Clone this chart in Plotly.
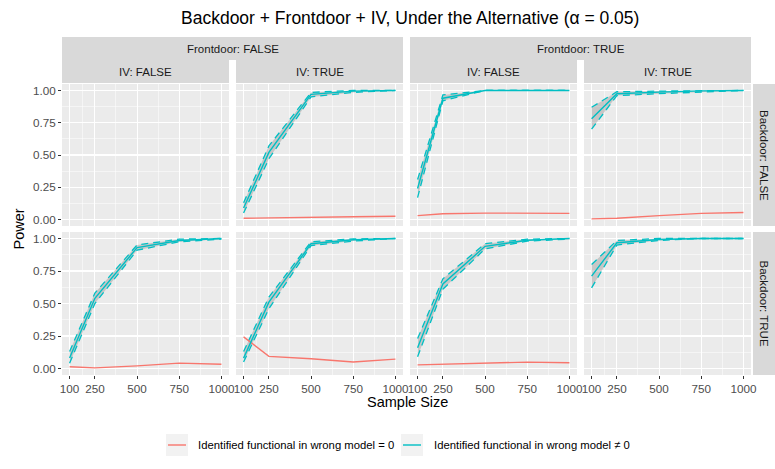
import plotly.graph_objects as go

W, H = 775, 469

# ---------------- data ----------------
sample_size = [100, 250, 500, 750, 1000]
x_tick_vals = [100, 250, 500, 750, 1000]
x_tick_text = ["100", "250", "500", "750", "1000"]
y_tick_vals = [0, 0.25, 0.5, 0.75, 1.0]
y_tick_text = ["0.00", "0.25", "0.50", "0.75", "1.00"]

frontdoor_labels = ["Frontdoor: FALSE", "Frontdoor: TRUE"]
iv_labels = ["IV: FALSE", "IV: TRUE", "IV: FALSE", "IV: TRUE"]
backdoor_labels = ["Backdoor: FALSE", "Backdoor: TRUE"]
series_names = ["Identified functional in wrong model = 0",
                "Identified functional in wrong model \u2260 0"]
title_text = "Backdoor + Frontdoor + IV, Under the Alternative (\u03b1 = 0.05)"

# Backdoor FALSE, Frontdoor FALSE, IV TRUE
zero_bF_fF_iT = [0.010, 0.014, 0.018, 0.022, 0.026]
nz_bF_fF_iT = [0.09, 0.52, 0.97, 0.995, 1.0]
nz_lo_bF_fF_iT = [0.05, 0.47, 0.95, 0.985, 1.0]
nz_hi_bF_fF_iT = [0.13, 0.57, 0.985, 1.0, 1.0]

# Backdoor FALSE, Frontdoor TRUE, IV FALSE
zero_bF_fT_iF = [0.030, 0.045, 0.050, 0.050, 0.048]
nz_bF_fT_iF = [0.24, 0.94, 1.0, 1.0, 1.0]
nz_lo_bF_fT_iF = [0.17, 0.92, 1.0, 1.0, 1.0]
nz_hi_bF_fT_iF = [0.31, 0.965, 1.0, 1.0, 1.0]

# Backdoor FALSE, Frontdoor TRUE, IV TRUE
zero_bF_fT_iT = [0.005, 0.010, 0.030, 0.048, 0.054]
nz_bF_fT_iT = [0.78, 0.975, 0.987, 0.997, 1.0]
nz_lo_bF_fT_iT = [0.70, 0.96, 0.975, 0.99, 1.0]
nz_hi_bF_fT_iT = [0.87, 0.99, 0.995, 1.0, 1.0]

# Backdoor TRUE, Frontdoor FALSE, IV FALSE
zero_bT_fF_iF = [0.013, 0.005, 0.020, 0.041, 0.033]
nz_bT_fF_iF = [0.08, 0.54, 0.93, 0.985, 1.0]
nz_lo_bT_fF_iF = [0.04, 0.50, 0.91, 0.975, 0.995]
nz_hi_bT_fF_iF = [0.13, 0.58, 0.95, 0.995, 1.0]

# Backdoor TRUE, Frontdoor FALSE, IV TRUE
zero_bT_fF_iT = [0.243, 0.093, 0.075, 0.050, 0.072]
nz_bT_fF_iT = [0.08, 0.51, 0.96, 0.99, 1.0]
nz_lo_bT_fF_iT = [0.05, 0.46, 0.945, 0.98, 1.0]
nz_hi_bT_fF_iT = [0.13, 0.55, 0.975, 0.997, 1.0]

# Backdoor TRUE, Frontdoor TRUE, IV FALSE
zero_bT_fT_iF = [0.028, 0.034, 0.040, 0.049, 0.044]
nz_bT_fT_iF = [0.16, 0.65, 0.94, 0.987, 1.0]
nz_lo_bT_fT_iF = [0.09, 0.61, 0.92, 0.98, 0.995]
nz_hi_bT_fT_iF = [0.23, 0.69, 0.96, 0.995, 1.0]

# Backdoor TRUE, Frontdoor TRUE, IV TRUE
nz_bT_fT_iT = [0.71, 0.967, 0.992, 1.0, 1.0]
nz_lo_bT_fT_iT = [0.62, 0.95, 0.985, 1.0, 1.0]
nz_hi_bT_fT_iT = [0.80, 0.985, 1.0, 1.0, 1.0]

# (row, col, zero-series, nonzero-series, lower, upper)
panels = [
    (0, 0, None, None, None, None),
    (0, 1, zero_bF_fF_iT, nz_bF_fF_iT, nz_lo_bF_fF_iT, nz_hi_bF_fF_iT),
    (0, 2, zero_bF_fT_iF, nz_bF_fT_iF, nz_lo_bF_fT_iF, nz_hi_bF_fT_iF),
    (0, 3, zero_bF_fT_iT, nz_bF_fT_iT, nz_lo_bF_fT_iT, nz_hi_bF_fT_iT),
    (1, 0, zero_bT_fF_iF, nz_bT_fF_iF, nz_lo_bT_fF_iF, nz_hi_bT_fF_iF),
    (1, 1, zero_bT_fF_iT, nz_bT_fF_iT, nz_lo_bT_fF_iT, nz_hi_bT_fF_iT),
    (1, 2, zero_bT_fT_iF, nz_bT_fT_iF, nz_lo_bT_fT_iF, nz_hi_bT_fT_iF),
    (1, 3, None, nz_bT_fT_iT, nz_lo_bT_fT_iT, nz_hi_bT_fT_iT),
]

# ---------------- styling ----------------
RED = "#F8766D"
TEAL = "#00BFC4"
PANEL_BG = "#EBEBEB"
STRIP_BG = "#D9D9D9"
FONT = "Liberation Sans, Arial, Helvetica, sans-serif"

col_px = [(62, 229), (236, 403), (410, 577), (584, 751)]
row_px = [(84, 226), (232, 375)]


def fx(px):
    return px / W


def fy(py):
    return 1 - py / H


fig = go.Figure()
layout = dict(
    width=W, height=H, autosize=False,
    margin=dict(l=0, r=0, t=0, b=0, pad=0, autoexpand=False),
    paper_bgcolor="white",
    plot_bgcolor=PANEL_BG,
    showlegend=False,
    font=dict(family=FONT, color="#4D4D4D", size=11),
)

shapes = []
annotations = []

for (r, c, zero, nz, lo, hi) in panels:
    idx = r * 4 + c + 1
    xa = "x" if idx == 1 else f"x{idx}"
    ya = "y" if idx == 1 else f"y{idx}"
    xk = "xaxis" if idx == 1 else f"xaxis{idx}"
    yk = "yaxis" if idx == 1 else f"yaxis{idx}"
    x0, x1 = col_px[c]
    y0, y1 = row_px[r]
    layout[xk] = dict(
        domain=[fx(x0), fx(x1)], anchor=ya, range=[55, 1045],
        automargin=False,
        tickvals=x_tick_vals, ticktext=x_tick_text,
        showticklabels=(r == 1), ticks="outside" if r == 1 else "",
        ticklen=3, tickwidth=1, tickcolor="#333333",
        tickfont=dict(size=11.7, color="#4D4D4D", family=FONT),
        showgrid=True, gridcolor="white", gridwidth=1.1,
        minor=dict(tickvals=[175, 375, 625, 875], showgrid=True,
                   gridcolor="white", gridwidth=0.5, ticks=""),
        zeroline=False, showline=False, fixedrange=True,
    )
    layout[yk] = dict(
        domain=[fy(y1), fy(y0)], anchor=xa, range=[-0.05, 1.05],
        automargin=False,
        tickvals=y_tick_vals, ticktext=y_tick_text,
        showticklabels=(c == 0), ticks="outside" if c == 0 else "",
        ticklen=3, tickwidth=1, tickcolor="#333333",
        tickfont=dict(size=11.7, color="#4D4D4D", family=FONT),
        showgrid=True, gridcolor="white", gridwidth=1.1,
        minor=dict(tickvals=[0.125, 0.375, 0.625, 0.875], showgrid=True,
                   gridcolor="white", gridwidth=0.5, ticks=""),
        zeroline=False, showline=False, fixedrange=True,
    )
    if nz is None and zero is None:
        fig.add_trace(go.Scatter(x=[], y=[], xaxis=xa, yaxis=ya,
                                 hoverinfo="skip"))
        continue
    if nz is not None:
        # ribbon
        fig.add_trace(go.Scatter(x=sample_size, y=hi, xaxis=xa, yaxis=ya,
                                 mode="lines", line=dict(width=0, color=TEAL),
                                 hoverinfo="skip"))
        fig.add_trace(go.Scatter(x=sample_size, y=lo, xaxis=xa, yaxis=ya,
                                 mode="lines", line=dict(width=0, color=TEAL),
                                 fill="tonexty",
                                 fillcolor="rgba(140,140,140,0.38)",
                                 hoverinfo="skip"))
        for bound in (lo, hi):
            fig.add_trace(go.Scatter(x=sample_size, y=bound, xaxis=xa, yaxis=ya,
                                     mode="lines",
                                     line=dict(width=1.3, color=TEAL, dash="7px,5px"),
                                     hoverinfo="skip"))
    if zero is not None:
        fig.add_trace(go.Scatter(x=sample_size, y=zero, xaxis=xa, yaxis=ya,
                                 mode="lines", name=series_names[0],
                                 line=dict(width=1.4, color=RED)))
    if nz is not None:
        fig.add_trace(go.Scatter(x=sample_size, y=nz, xaxis=xa, yaxis=ya,
                                 mode="lines", name=series_names[1],
                                 line=dict(width=1.4, color=TEAL)))

# ---------------- strips ----------------
strip_font = dict(family=FONT, size=11.5, color="#1A1A1A")
# Frontdoor strips
for i, (ca, cb) in enumerate([(0, 1), (2, 3)]):
    xa0 = col_px[ca][0]
    xb1 = col_px[cb][1]
    shapes.append(dict(type="rect", xref="paper", yref="paper",
                       x0=fx(xa0), x1=fx(xb1), y0=fy(60), y1=fy(37),
                       fillcolor=STRIP_BG, line=dict(width=0), layer="below"))
    annotations.append(dict(text=frontdoor_labels[i], xref="paper", yref="paper",
                            x=fx((xa0 + xb1) / 2), y=fy(48.5), showarrow=False,
                            xanchor="center", yanchor="middle", font=strip_font))
# IV strips
for c in range(4):
    x0, x1 = col_px[c]
    shapes.append(dict(type="rect", xref="paper", yref="paper",
                       x0=fx(x0), x1=fx(x1), y0=fy(83), y1=fy(60),
                       fillcolor=STRIP_BG, line=dict(width=0), layer="below"))
    annotations.append(dict(text=iv_labels[c], xref="paper", yref="paper",
                            x=fx((x0 + x1) / 2), y=fy(71.5), showarrow=False,
                            xanchor="center", yanchor="middle", font=strip_font))
# Backdoor strips (right)
for r in range(2):
    y0, y1 = row_px[r]
    shapes.append(dict(type="rect", xref="paper", yref="paper",
                       x0=fx(753), x1=fx(775), y0=fy(y1), y1=fy(y0),
                       fillcolor=STRIP_BG, line=dict(width=0), layer="below"))
    annotations.append(dict(text=backdoor_labels[r], xref="paper", yref="paper",
                            x=fx(764), y=fy((y0 + y1) / 2), showarrow=False,
                            textangle=90, xanchor="center", yanchor="middle",
                            font=strip_font))

# ---------------- titles ----------------
annotations.append(dict(text=title_text, xref="paper", yref="paper",
                        x=fx(410), y=fy(18), showarrow=False,
                        xanchor="center", yanchor="middle",
                        font=dict(family=FONT, size=17.5, color="black")))
annotations.append(dict(text="Sample Size", xref="paper", yref="paper",
                        x=fx(407), y=fy(402), showarrow=False,
                        xanchor="center", yanchor="middle",
                        font=dict(family=FONT, size=14.5, color="black")))
annotations.append(dict(text="Power", xref="paper", yref="paper",
                        x=fx(18), y=fy(229.5), showarrow=False, textangle=-90,
                        xanchor="center", yanchor="middle",
                        font=dict(family=FONT, size=14.5, color="black")))

# ---------------- legend (manual) ----------------
legend_keys = [(166, 196, RED), (401, 432, TEAL)]
for i, (kx, tx, colr) in enumerate(legend_keys):
    shapes.append(dict(type="rect", xref="paper", yref="paper",
                       x0=fx(kx), x1=fx(kx + 22), y0=fy(456), y1=fy(434),
                       fillcolor="#F2F2F2", line=dict(width=0)))
    shapes.append(dict(type="line", xref="paper", yref="paper",
                       x0=fx(kx + 2), x1=fx(kx + 20), y0=fy(445), y1=fy(445),
                       line=dict(color=colr, width=1.4)))
    annotations.append(dict(text=series_names[i], xref="paper", yref="paper",
                            x=fx(tx), y=fy(445), showarrow=False,
                            xanchor="left", yanchor="middle",
                            font=dict(family=FONT, size=11.3, color="black")))

layout["shapes"] = shapes
layout["annotations"] = annotations
fig.update_layout(**layout)
fig.write_html(
    "out.html",
    config={"displayModeBar": False, "staticPlot": True},
    post_script="document.body.style.margin='0';document.body.style.overflow='hidden';",
)
